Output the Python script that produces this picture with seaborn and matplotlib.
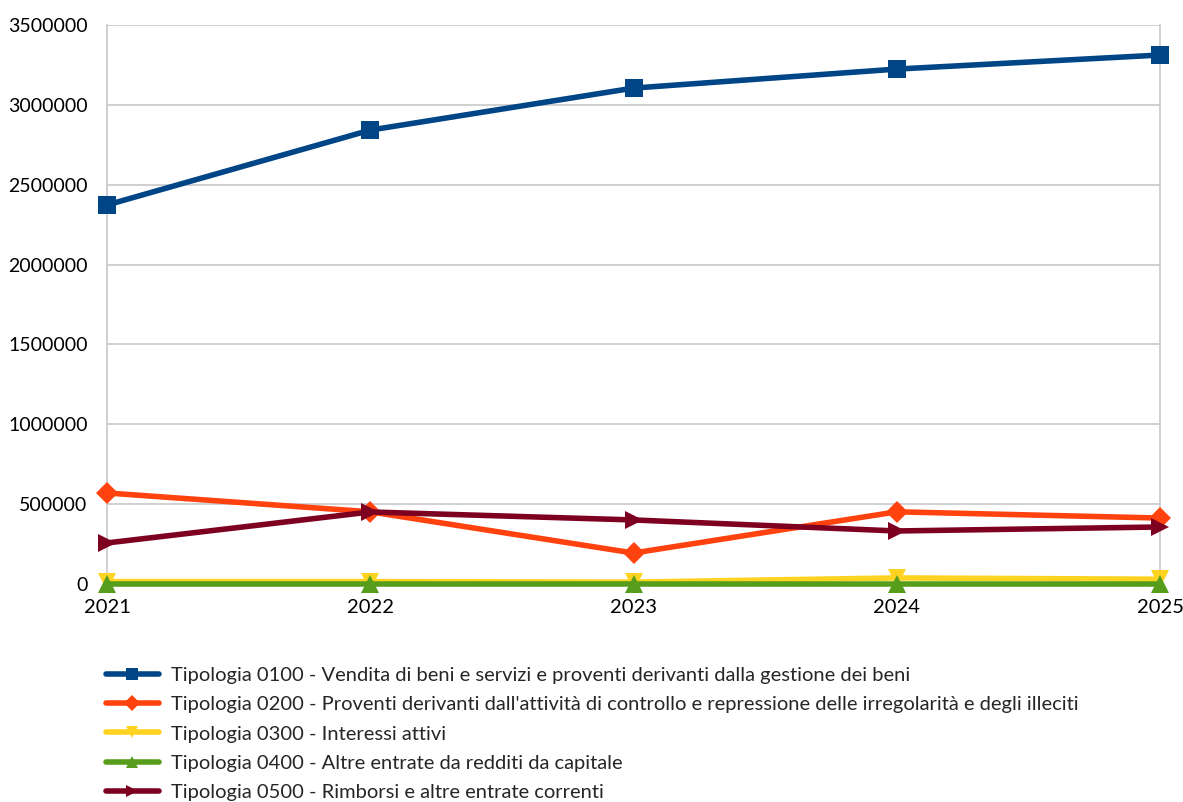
import matplotlib
matplotlib.use("Agg")
import matplotlib.pyplot as plt
import seaborn as sns
import pandas as pd

years = [2021, 2022, 2023, 2024, 2025]
labels = [
    "Tipologia 0100 - Vendita di beni e servizi e proventi derivanti dalla gestione dei beni",
    "Tipologia 0200 - Proventi derivanti dall'attività di controllo e repressione delle irregolarità e degli illeciti",
    "Tipologia 0300 - Interessi attivi",
    "Tipologia 0400 - Altre entrate da redditi da capitale",
    "Tipologia 0500 - Rimborsi e altre entrate correnti",
]
t0100 = [2373000, 2842000, 3105000, 3224000, 3312000]
t0200 = [570000, 452000, 194000, 452000, 413000]
t0300 = [15000, 15000, 12000, 38000, 30000]
t0400 = [0, 0, 0, 0, 0]
t0500 = [257000, 451000, 401000, 332000, 357000]
series = [t0100, t0200, t0300, t0400, t0500]

colors = ["#004586", "#ff420e", "#ffd320", "#579d1c", "#7e0021"]
markers = ["s", "D", "v", "^", ">"]
msizes = [13, 11, 13, 13, 13]

rows = []
for lab, vals in zip(labels, series):
    for y, v in zip(years, vals):
        rows.append({"Anno": y, "Valore": v, "Serie": lab})
df = pd.DataFrame(rows)

sns.set_theme(style="white")
plt.rcParams['font.family'] = ['Lato', 'DejaVu Sans']

fig = plt.figure(figsize=(11.83, 8.02), dpi=100)
ax = fig.add_axes([107/1183, 1-584/802, (1160-107)/1183, (584-25)/802])

for lab, col, mk, ms in zip(labels, colors, markers, msizes):
    sub = df[df["Serie"] == lab]
    sns.lineplot(data=sub, x="Anno", y="Valore", ax=ax, color=col, marker=mk,
                 markersize=ms, markeredgewidth=0, linewidth=4, label=lab,
                 clip_on=False, zorder=3)

ax.set_xlim(2021, 2025)
ax.set_ylim(0, 3500000)
ax.set_xticks(years)
ax.set_xticklabels([str(y) for y in years])
ax.set_yticks(range(0, 3500001, 500000))
ax.set_yticklabels([str(v) for v in range(0, 3500001, 500000)])
ax.set_xlabel("")
ax.set_ylabel("")
ax.grid(axis="y", color="#c8c8c8", linewidth=1.2)
ax.grid(axis="x", visible=False)
for s in ["top", "bottom"]:
    ax.spines[s].set_visible(False)
for s in ["left", "right"]:
    ax.spines[s].set_color("#c8c8c8")
    ax.spines[s].set_linewidth(1.2)
ax.tick_params(axis="y", length=8, color="#c8c8c8", width=1.2, pad=6, labelsize=14, labelcolor="black")
ax.tick_params(axis="x", length=0, pad=11, labelsize=14.5, labelcolor="black")

ax.get_legend().remove()
handles, labs = ax.get_legend_handles_labels()
fig.legend(handles, labs, loc="upper left", bbox_to_anchor=(0.083, 1-659/802),
           frameon=False, fontsize=14.5, handlelength=2.6, handletextpad=0.6,
           labelspacing=0.6, borderaxespad=0, markerscale=0.7)

fig.savefig("out.png", dpi=100)
